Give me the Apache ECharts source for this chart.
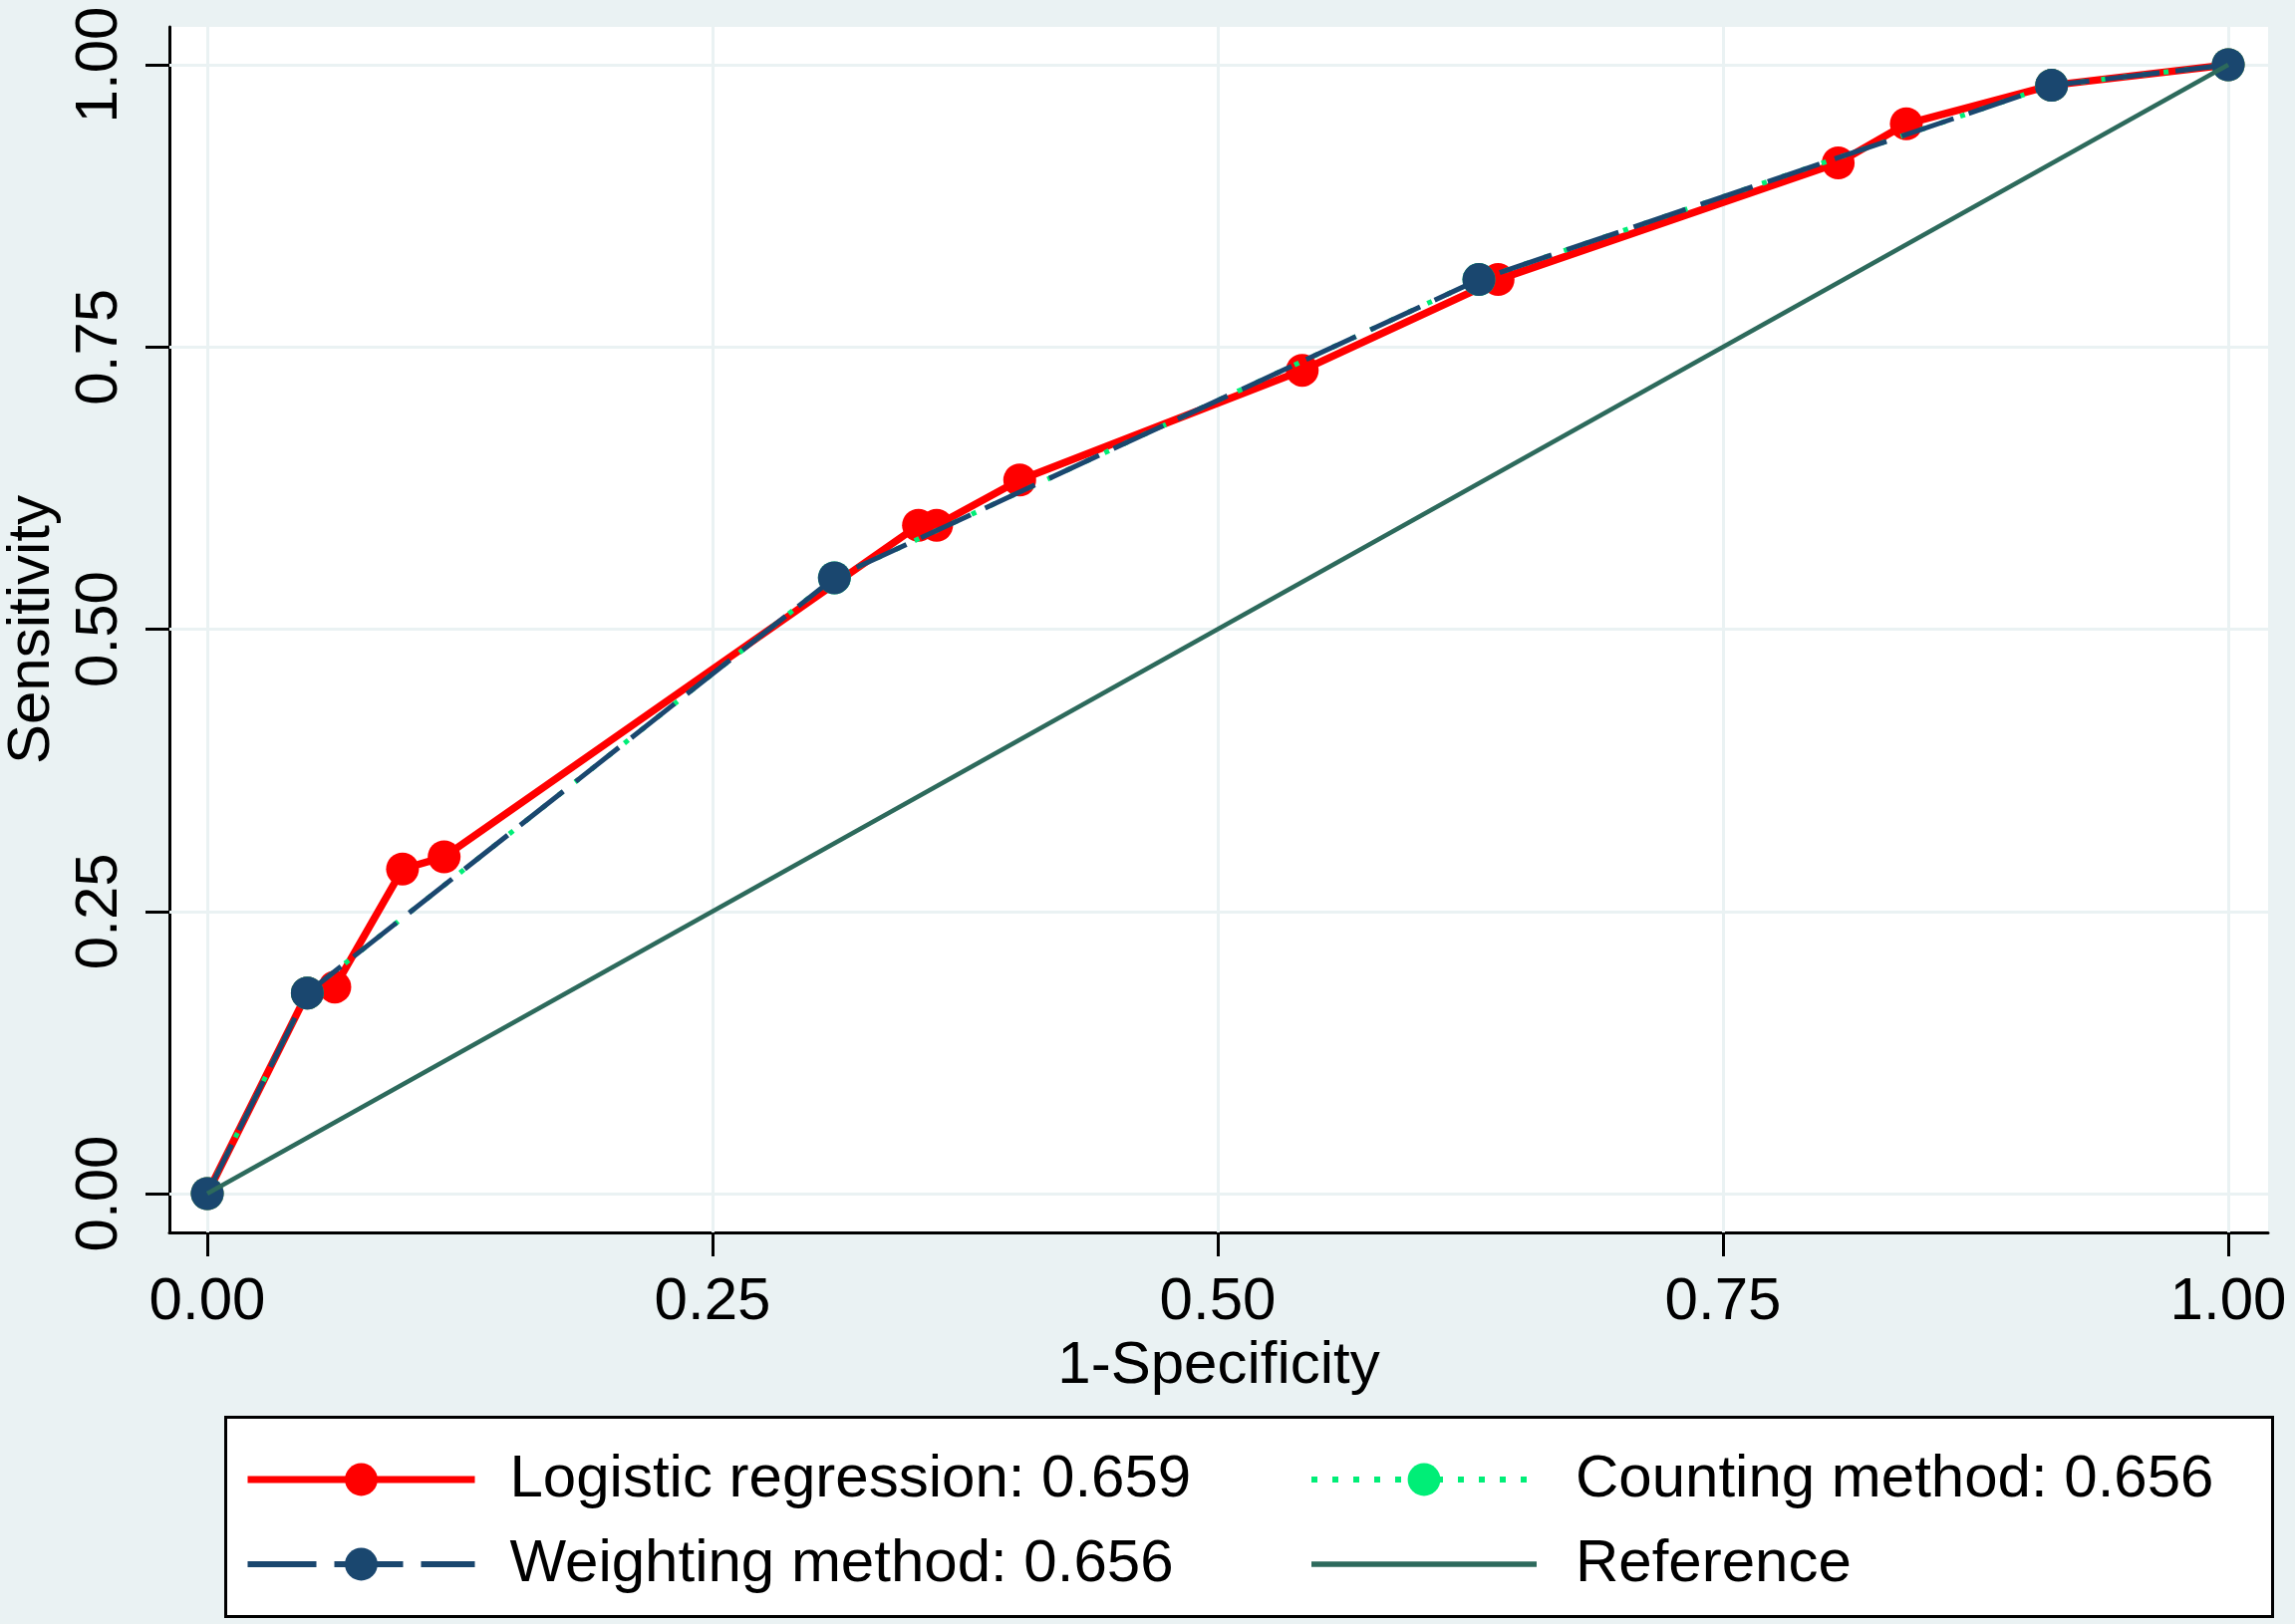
<!DOCTYPE html>
<html>
<head>
<meta charset="utf-8">
<script src="https://cdn.jsdelivr.net/npm/echarts@6/dist/echarts.min.js"></script>
<style>
  html, body { margin: 0; padding: 0; background: #eaf2f3; }
  #main { width: 2303px; height: 1630px; }
</style>
</head>
<body>
<div id="main"></div>
<script>
// ROC points
const logisticX = [0, 0.0495, 0.0631, 0.0966, 0.1172, 0.3519, 0.3609, 0.402, 0.5418, 0.6387, 0.807, 0.8407, 0.9126, 1];
const logisticY = [0, 0.1777, 0.183, 0.2875, 0.2983, 0.592, 0.592, 0.6322, 0.7293, 0.8097, 0.9131, 0.9477, 0.9818, 1];
const weightingX = [0, 0.0495, 0.3103, 0.6292, 0.9126, 1];
const weightingY = [0, 0.1777, 0.5455, 0.8097, 0.9818, 1];
const countingX = [0, 0.0495, 0.3103, 0.6292, 0.9126, 1];
const countingY = [0, 0.1777, 0.5455, 0.8097, 0.9818, 1];
const referenceX = [0, 1];
const referenceY = [0, 1];
const tickValues = [0, 0.25, 0.5, 0.75, 1];
const seriesNames = ["Logistic regression: 0.659", "Counting method: 0.656", "Weighting method: 0.656", "Reference"];

const font = "Liberation Sans, Arial, sans-serif";
const pairs = (xs, ys) => xs.map((x, i) => [x, ys[i]]);

const chart = echarts.init(document.getElementById("main"));

const axisCommon = {
  type: "value",
  nameLocation: "middle",
  nameTextStyle: { fontSize: 60, color: "#000", fontFamily: font },
  axisLine: { show: true, onZero: false, lineStyle: { color: "#000", width: 3 } },
  axisTick: { show: true, length: 24, lineStyle: { color: "#000", width: 3 }, customValues: tickValues },
  axisLabel: {
    fontSize: 60, color: "#000", fontFamily: font, margin: 40,
    customValues: tickValues,
    formatter: (v) => v.toFixed(2),
  },
  splitLine: { show: false },
};

const option = {
  backgroundColor: "#eaf2f3",
  animation: false,
  grid: {
    left: 170, top: 27, width: 2106, height: 1210,
    outerBoundsMode: "none", containLabel: false,
    show: true, backgroundColor: "#fff", borderWidth: 0,
  },
  xAxis: Object.assign({}, axisCommon, { name: "1-Specificity", nameGap: 101, min: -0.01874, max: 1.01972 }),
  yAxis: Object.assign({}, axisCommon, {
    name: "Sensitivity", nameGap: 100, min: -0.03442, max: 1.03354,
    axisLabel: Object.assign({}, axisCommon.axisLabel, { rotate: 90 }),
  }),
  legend: [
    {
      left: 245, top: 1455, padding: 0, orient: "vertical", itemGap: 25,
      itemWidth: 228, itemHeight: 41,
      textStyle: { fontSize: 60, color: "#000", fontFamily: font, padding: [0, 0, 0, 30] },
      data: [
        { name: seriesNames[0], lineStyle: { width: 7 } },
        { name: seriesNames[2], lineStyle: { width: 6, type: [69, 18] } },
      ],
    },
    {
      left: 1313, top: 1455, padding: 0, orient: "vertical", itemGap: 25,
      itemWidth: 226, itemHeight: 41,
      textStyle: { fontSize: 60, color: "#000", fontFamily: font, padding: [0, 0, 0, 34] },
      data: [
        { name: seriesNames[1], lineStyle: { width: 6, type: [6, 15] } },
        { name: seriesNames[3], itemStyle: { opacity: 0 }, lineStyle: { width: 5.5 } },
      ],
    },
  ],
  graphic: [
    {
      type: "rect", left: 225, top: 1421, z: -1,
      shape: { width: 2054, height: 200 },
      style: { fill: "#fff", stroke: "#000", lineWidth: 3 },
    },
  ],
  series: [
    {
      name: "grid", type: "line", data: [], silent: true, z: 1,
      markLine: {
        z: 1, silent: true, symbol: ["none", "none"], label: { show: false },
        lineStyle: { color: "#eaf2f3", width: 3, type: "solid" },
        emphasis: { disabled: true },
        data: tickValues.map((v) => ({ xAxis: v })).concat(tickValues.map((v) => ({ yAxis: v }))),
      },
    },
    {
      name: seriesNames[0], type: "line", z: 3,
      data: pairs(logisticX, logisticY),
      symbol: "circle", symbolSize: 33,
      lineStyle: { color: "#ff0000", width: 7.5 },
      itemStyle: { color: "#ff0000", borderWidth: 0 },
    },
    {
      name: seriesNames[1], type: "line", z: 4,
      data: pairs(countingX, countingY),
      symbol: "circle", symbolSize: 33,
      lineStyle: { color: "#00ee77", width: 5, type: [5, 16] },
      itemStyle: { color: "#00ee77", borderWidth: 0 },
    },
    {
      name: seriesNames[2], type: "line", z: 5,
      data: pairs(weightingX, weightingY),
      symbol: "circle", symbolSize: 33,
      lineStyle: { color: "#1a476f", width: 5, type: [55, 16] },
      itemStyle: { color: "#1a476f", borderWidth: 0 },
    },
    {
      name: seriesNames[3], type: "line", z: 6,
      data: pairs(referenceX, referenceY),
      symbol: "none",
      lineStyle: { color: "#2d6a5c", width: 4.5 },
      itemStyle: { color: "#2d6a5c" },
    },
  ],
};

chart.setOption(option);
</script>
</body>
</html>
